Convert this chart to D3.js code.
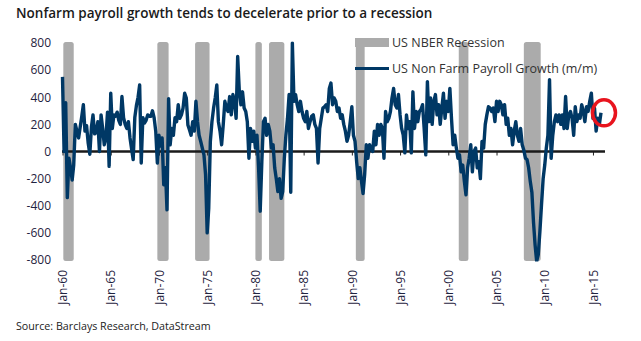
<!DOCTYPE html>
<html>
<head>
<meta charset="utf-8">
<script src="https://cdn.jsdelivr.net/npm/d3@7/dist/d3.min.js"></script>
<style>
body { margin: 0; background: #fff; }
svg text { font-family: "Open Sans", sans-serif; }
</style>
</head>
<body>
<svg id="chart" width="641" height="341"></svg>
<script>
// y axis ticks and x axis label years
var yTicks = [800, 600, 400, 200, 0, -200, -400, -600, -800];
var xTickYears = [1960, 1965, 1970, 1975, 1980, 1985, 1990, 1995, 2000, 2005, 2010, 2015];

// NBER recession bands (start, end)
var recessions = [
    ["1960-02", "1961-03"], ["1969-11", "1971-01"], ["1973-10", "1975-04"],
    ["1980-01", "1980-09"], ["1981-06", "1983-01"], ["1990-06", "1991-05"],
    ["2001-02", "2002-02"], ["2007-11", "2009-08"]
];

// payroll growth (k, m/m), one reading every two months from January of each decade
var payrolls1960s = [
    550, 0, 360, -340, -50, -120, -210, -100, 200, 150,
    100, 180, 260, 345, 150, 190, 60, -20, 180, 270,
    130, 140, 220, 0, 270, 170, 50, 100, 290, -110,
    430, 170, 270, 260, 290, 230, 200, 405, 250, 200,
    170, 220, 100, 20, -60, 250, 340, 400, 490, -85,
    250, 210, 230, 270, 260, 260, 300, 250, 150, -85
];
var payrolls1970s = [
    120, 40, 100, -245, -120, -430, 390, 50, 170, 120,
    250, 220, 345, 245, 270, 320, 430, 395, 195, 160,
    120, 220, 150, 370, 220, 120, 75, 25, -25, -170,
    -600, -420, 75, 220, 320, 395, 490, 220, 150, 50,
    200, 370, 320, 295, 405, 270, 420, 370, 245, 700,
    450, 345, 440, 320, 295, 220, -50, 170, 75, 150
];
var payrolls1980s = [
    25, 120, -120, -440, -75, 220, 245, 120, 200, 150,
    25, 50, -120, -200, -295, -200, -345, -295, -50, 120,
    245, 420, -300, 800, 370, 420, 345, 295, 370, 295,
    245, 220, 295, 170, 220, 260, 270, 200, 170, -85,
    170, 245, 320, 330, 345, 295, 465, 505, 345, 395,
    370, 295, 320, 245, 270, 200, 150, 75, 120, 220
];
var payrolls1990s = [
    330, 120, 75, -75, -200, -120, -220, -310, -170, 50,
    -50, 50, 25, 0, 150, 50, 200, 120, 200, 170,
    -50, 295, 220, 245, 295, 395, 465, 345, 320, 420,
    270, 170, 120, -10, 270, 170, 220, -10, 440, 170,
    295, 220, 295, 310, 345, 170, -25, 515, 220, 395,
    200, 370, 420, 270, 345, 200, 320, 430, 245, 370
];
var payrolls2000s = [
    295, 465, 245, 50, 120, 25, -50, -25, -150, -100,
    -220, -320, -120, -50, 50, -150, 0, 25, -120, -75,
    -200, 75, 25, 200, 270, 330, 320, 295, 320, 220,
    370, 295, 370, 345, 270, 345, 200, 245, 120, 170,
    50, 150, 220, 120, 75, 170, 50, 10, -50, -60,
    -120, -220, -300, -520, -690, -810, -760, -590, -390, -200
];
var payrolls2010s = [
    -100, 25, 120, 530, -50, 120, 220, 270, 220, 270,
    200, 270, 170, 405, 170, 270, 295, 245, 120, 330,
    220, 270, 245, 345, 295, 220, 330, 295, 370, 430,
    245, 320, 150, 245, 200, 285
];

var decades = [
    {start: 1960, values: payrolls1960s},
    {start: 1970, values: payrolls1970s},
    {start: 1980, values: payrolls1980s},
    {start: 1990, values: payrolls1990s},
    {start: 2000, values: payrolls2000s},
    {start: 2010, values: payrolls2010s}
];

var series = [];
decades.forEach(function (d) {
    d.values.forEach(function (v, i) {
        series.push({date: new Date(d.start, i * 2, 1), value: v});
    });
});

var parseMonth = d3.timeParse("%Y-%m");
var svg = d3.select("#chart");

var x = d3.scaleTime()
    .domain([new Date(1960, 0, 1), new Date(2016, 0, 1)])
    .range([62.5, 602.6]);
var y = d3.scaleLinear()
    .domain([-800, 800])
    .range([260, 43]);

svg.append("defs").append("clipPath")
    .attr("id", "plot-clip")
    .append("rect")
    .attr("x", 50)
    .attr("y", y(800) - 1.5)
    .attr("width", 580)
    .attr("height", y(-800) - y(800) + 3);

// recession bands
svg.append("g")
    .selectAll("rect")
    .data(recessions)
    .enter()
    .append("rect")
    .attr("x", function (d) { return x(parseMonth(d[0])); })
    .attr("width", function (d) { return x(parseMonth(d[1])) - x(parseMonth(d[0])); })
    .attr("y", y(800) - 1)
    .attr("height", y(-800) - y(800) + 2)
    .attr("rx", 2.5)
    .attr("fill", "#ababab");

// y axis labels
var yAxis = svg.append("g")
    .attr("transform", "translate(55,0)")
    .call(d3.axisLeft(y).tickValues(yTicks).tickSize(0).tickPadding(4)
        .tickFormat(function (d) { return String(d); }));
yAxis.select(".domain").remove();
yAxis.selectAll("text")
    .attr("fill", "#1f2340")
    .style("font-size", "12px");

// zero line with small ticks
var xTickDates = xTickYears.map(function (yr) { return new Date(yr, 0, 1); });
var zeroAxis = svg.append("g")
    .attr("transform", "translate(0," + y(0) + ")")
    .call(d3.axisBottom(x).tickValues(xTickDates).tickSize(4).tickFormat(""));
zeroAxis.select(".domain").remove();
zeroAxis.selectAll("line").attr("stroke", "#222").attr("stroke-width", 1);
svg.append("line")
    .attr("x1", 62)
    .attr("x2", 605)
    .attr("y1", y(0))
    .attr("y2", y(0))
    .attr("stroke", "#1a1a1a")
    .attr("stroke-width", 2.5);

// rotated x labels below the plot
var xLabels = svg.append("g")
    .attr("transform", "translate(0,264)")
    .call(d3.axisBottom(x).tickValues(xTickDates).tickSize(0)
        .tickFormat(d3.timeFormat("Jan-%y")));
xLabels.select(".domain").remove();
xLabels.selectAll("text")
    .attr("transform", "rotate(-90)")
    .attr("x", -6)
    .attr("y", 0)
    .attr("dy", "0.35em")
    .style("text-anchor", "end")
    .style("font-size", "12px")
    .attr("fill", "#1f2340");

// payroll line
var line = d3.line()
    .x(function (d) { return x(d.date); })
    .y(function (d) { return y(d.value); });
svg.append("path")
    .datum(series)
    .attr("clip-path", "url(#plot-clip)")
    .attr("d", line)
    .attr("fill", "none")
    .attr("stroke", "#003865")
    .attr("stroke-width", 3.4)
    .attr("stroke-linejoin", "round");

// legend
var legend = svg.append("g").attr("transform", "translate(355,0)");
legend.append("rect")
    .attr("x", 0).attr("y", 38)
    .attr("width", 34).attr("height", 9)
    .attr("fill", "#ababab");
legend.append("line")
    .attr("x1", 0).attr("x2", 34)
    .attr("y1", 68.5).attr("y2", 68.5)
    .attr("stroke", "#003865")
    .attr("stroke-width", 3);
legend.append("text")
    .attr("x", 37).attr("y", 42.5).attr("dy", "0.35em")
    .style("font-size", "12.5px").attr("fill", "#333")
    .text("US NBER Recession");
legend.append("text")
    .attr("x", 37).attr("y", 68.5).attr("dy", "0.35em")
    .style("font-size", "12.5px").attr("fill", "#333")
    .text("US Non Farm Payroll Growth (m/m)");

// highlight around the latest reading
var last = series[series.length - 1];
svg.append("ellipse")
    .attr("cx", x(last.date) + 3)
    .attr("cy", y(last.value))
    .attr("rx", 11.5)
    .attr("ry", 13)
    .attr("fill", "none")
    .attr("stroke", "#e8141e")
    .attr("stroke-width", 3.5);

// title and source
svg.append("text")
    .attr("x", 16).attr("y", 18)
    .style("font-size", "13.5px").style("font-weight", 600)
    .attr("fill", "#1a1a1a")
    .text("Nonfarm payroll growth tends to decelerate prior to a recession");
svg.append("text")
    .attr("x", 16).attr("y", 330)
    .style("font-size", "10.7px")
    .attr("fill", "#222")
    .text("Source: Barclays Research, DataStream");
</script>
</body>
</html>
